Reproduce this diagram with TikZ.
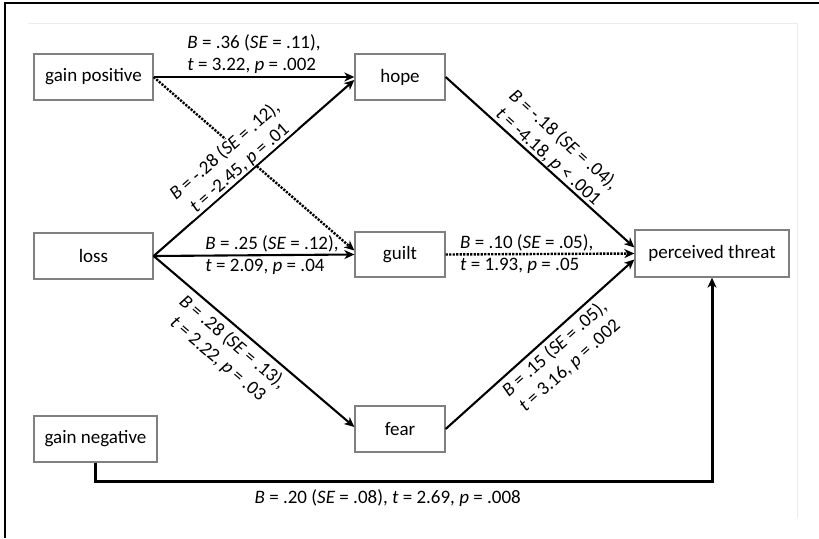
\documentclass[tikz,border=0pt]{standalone}
\usepackage{fontspec}
\setmainfont{Carlito}
\usetikzlibrary{arrows.meta}
\begin{document}
\begin{tikzpicture}[x=1pt,y=-1pt,
  font=\fontsize{19}{22.5}\selectfont,
  varbox/.style={draw=black!50, line width=1.3pt, fill=white, inner sep=0pt},
  path arrow/.style={line width=2.1pt, -{Stealth[length=10pt,width=9pt,inset=3pt]}},
  weak arrow/.style={path arrow, line width=2.4pt, dash pattern=on 2.2pt off 1.3pt},
  lab/.style={align=center, inner sep=1pt},
  labl/.style={align=left, inner sep=1pt}]
  % page frame
  \useasboundingbox (0,0) rectangle (819,538);
  \draw[line width=2pt] (5,538) -- (5,3) -- (819,3);
  \draw[black!7, line width=1pt] (28,23) -- (797,23) -- (797,518);

  % variables
  \node[varbox, minimum width=119pt, minimum height=46pt] (gp) at (93.5,77) {gain positive};
  \node[varbox, minimum width=119pt, minimum height=46pt] (loss) at (93.5,256) {loss};
  \node[varbox, minimum width=123pt, minimum height=46pt] (gn) at (95.5,439) {gain negative};
  \node[varbox, minimum width=90pt, minimum height=46pt] (hope) at (400,77) {hope};
  \node[varbox, minimum width=90pt, minimum height=45pt] (guilt) at (400,254.5) {guilt};
  \node[varbox, minimum width=90pt, minimum height=46pt] (fear) at (400,429) {fear};
  \node[varbox, minimum width=154pt, minimum height=47pt] (pt) at (712,253.5) {perceived threat};

  % non-significant path, drawn first so labels mask it
  \draw[weak arrow] (gp.east) -- ([yshift=4pt]guilt.west);

  % paths to the emotions
  \draw[path arrow] (gp.east) -- node[labl, above, inner sep=2pt] {\textit{B} = .36 (\textit{SE} = .11),\\\textit{t} = 3.22, \textit{p} = .002} (hope.west);
  \draw[path arrow] (loss.east) -- node[lab, sloped, above, pos=0.46, fill=white, inner sep=0pt] {\textit{B} = -.28 (\textit{SE} = .12),\\\textit{t} = -2.45, \textit{p} = .01} ([yshift=-3pt]hope.west);
  \draw[path arrow] (loss.east) -- node[labl, pos=0.59] {\textit{B} = .25 (\textit{SE} = .12),\\\textit{t} = 2.09, \textit{p} = .04} (guilt.west);
  \draw[path arrow] (loss.east) -- node[lab, sloped, below, pos=0.44, inner sep=5pt] {\textit{B} = .28 (\textit{SE} = .13),\\\textit{t} = 2.22, \textit{p} = .03} ([yshift=2pt]fear.west);

  % paths to perceived threat
  \draw[path arrow] (hope.east) -- node[lab, sloped, above, pos=0.51, inner sep=0pt] {\textit{B} = -.18 (\textit{SE} = .04),\\\textit{t} = -4.18, \textit{p} < .001} ([yshift=6pt]pt.west);
  \draw[weak arrow] (guilt.east) -- node[labl, pos=0.43] {\textit{B} = .10 (\textit{SE} = .05),\\\textit{t} = 1.93, \textit{p} = .05} (pt.west);
  \draw[path arrow] (fear.east) -- node[lab, sloped, below, pos=0.53, inner sep=4pt] {\textit{B} = .15 (\textit{SE} = .05),\\\textit{t} = 3.16, \textit{p} = .002} ([yshift=-6pt]pt.west);

  % direct path from gain negative
  \coordinate (corner) at (712,481);
  \draw[line width=3pt, -{Stealth[length=10pt,width=9pt,inset=3pt]}] (gn.south) -- (gn.south |- corner)
    -- node[below, pos=0.474, inner sep=7pt] {\textit{B} = .20 (\textit{SE} = .08), \textit{t} = 2.69, \textit{p} = .008} (corner) -- (pt.south);
\end{tikzpicture}
\end{document}
